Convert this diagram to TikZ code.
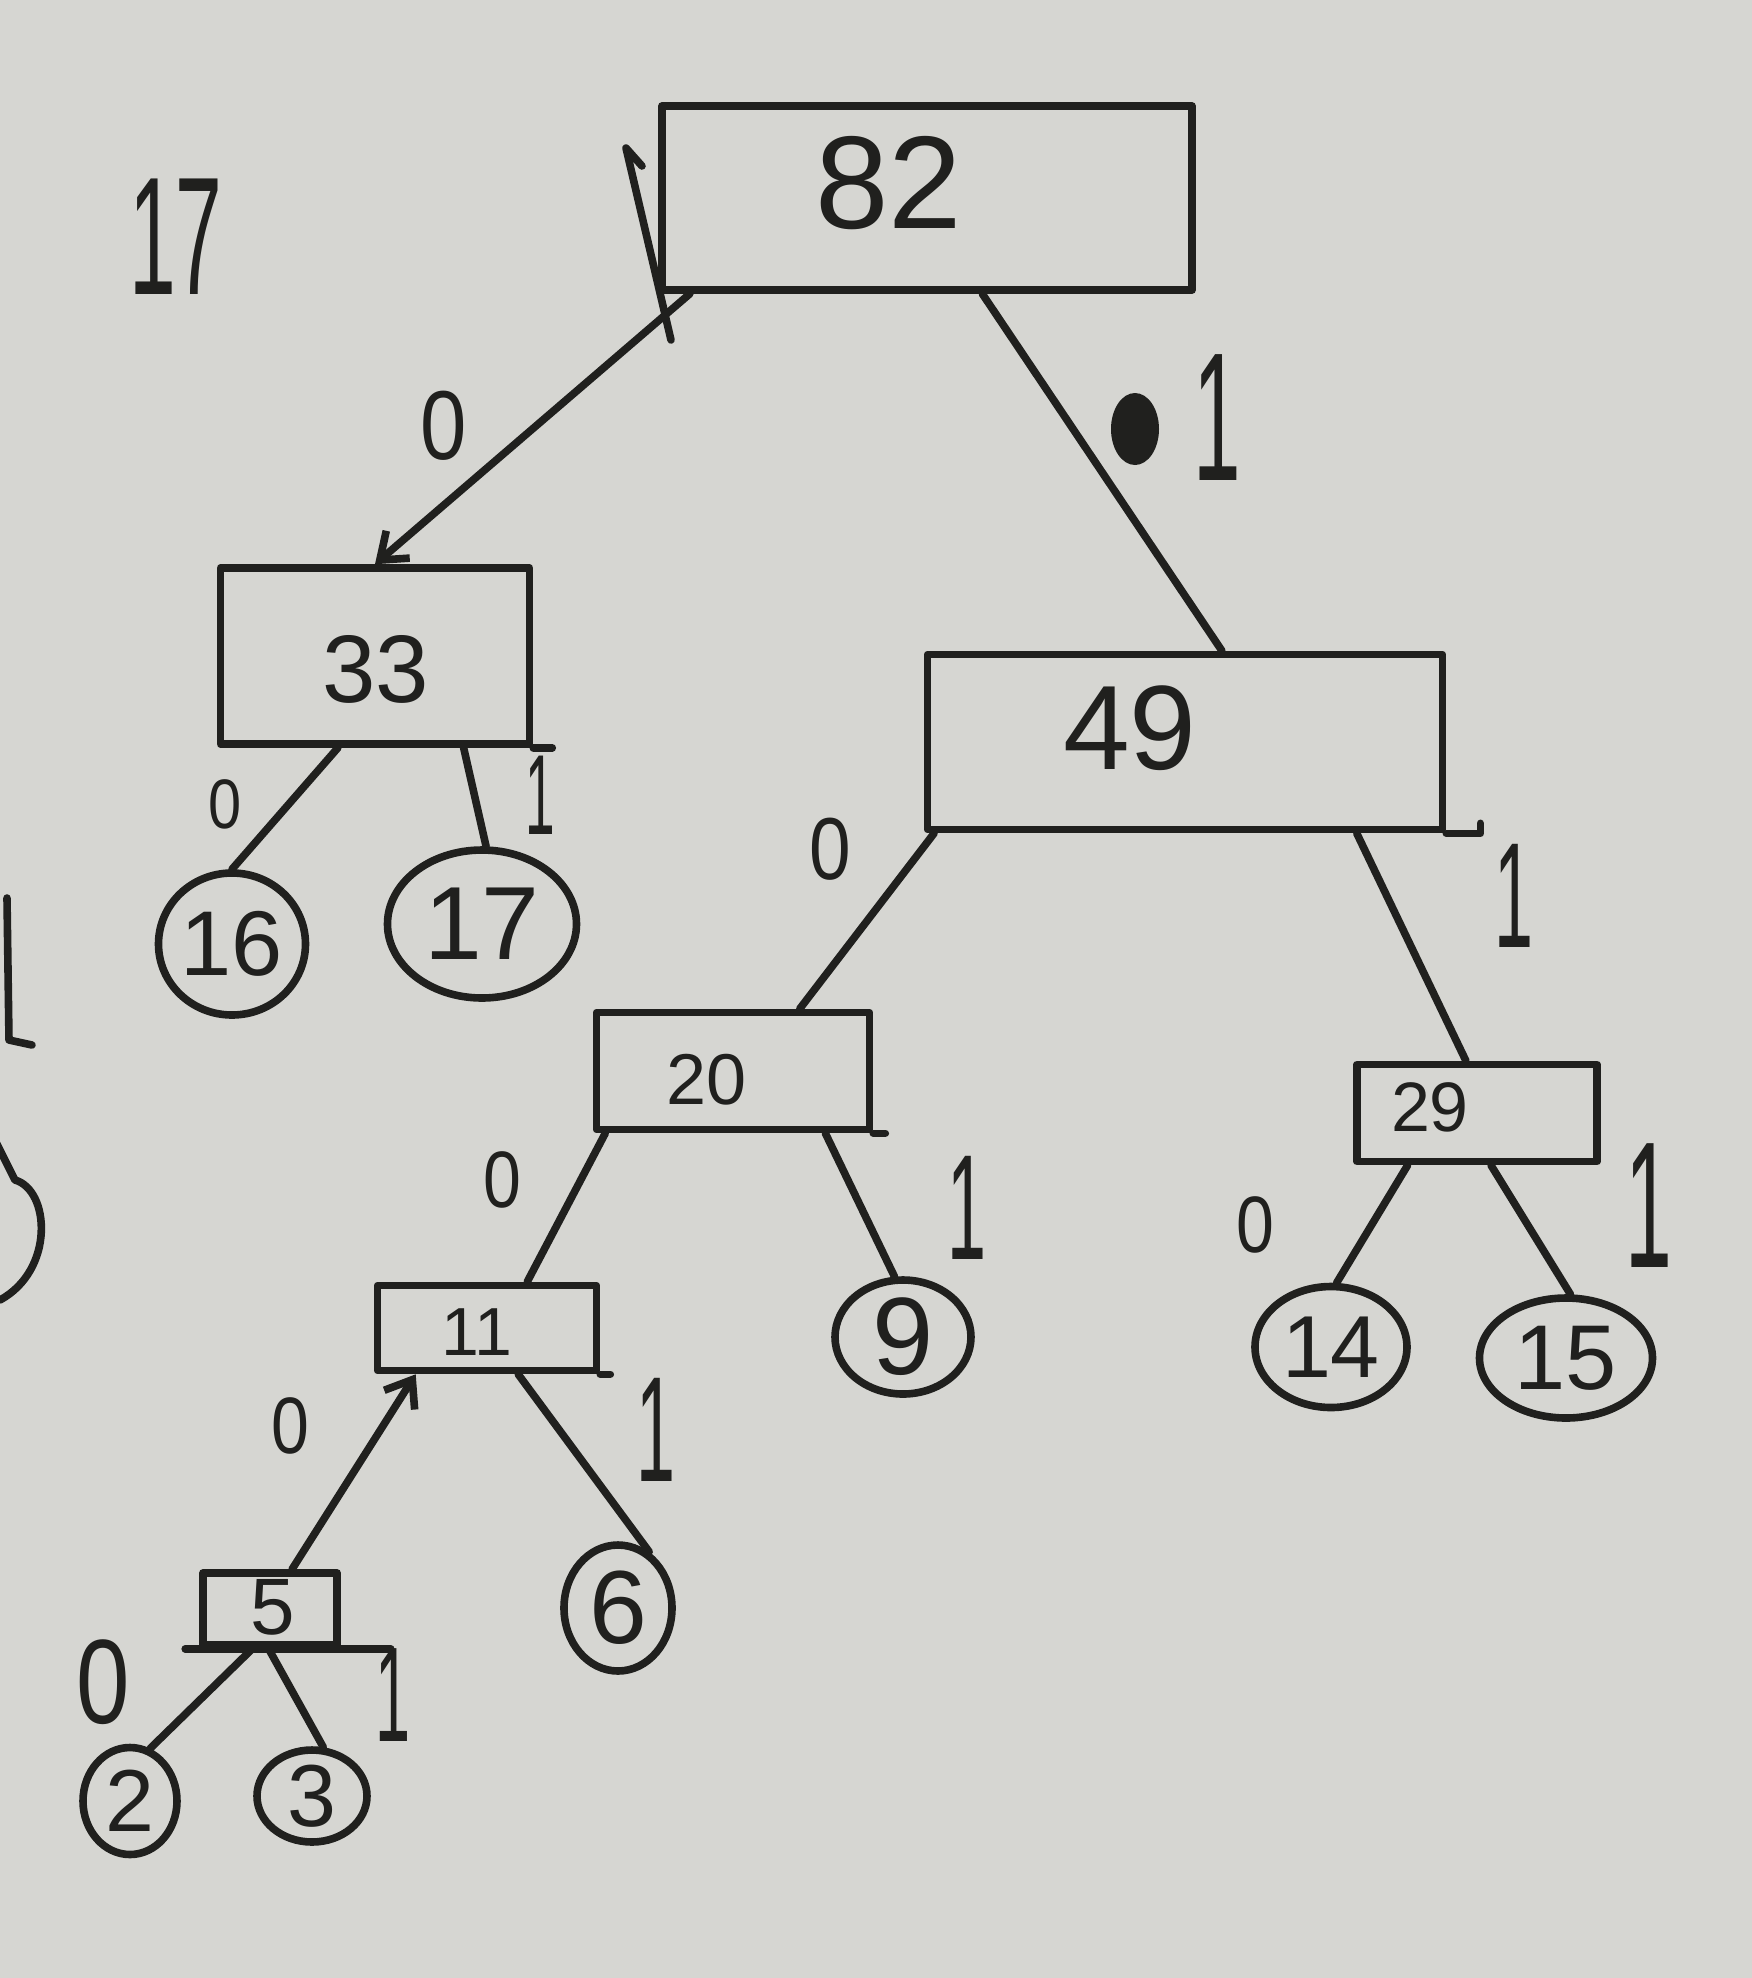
\documentclass[tikz,border=0pt]{standalone}
\usepackage{fontspec}
\setmainfont{Liberation Sans}
\usepackage{graphicx}
\usetikzlibrary{shapes.geometric,arrows.meta}
\definecolor{paper}{RGB}{214,214,210}
\definecolor{ink}{RGB}{32,32,30}
\newcommand\tallone[1]{\scalebox{0.7}[1.5]{#1}}
\tikzset{
  pen/.style={draw=ink, line width=3.8pt, line cap=round, line join=round},
  boxn/.style={pen, rectangle, inner sep=0pt},
  leaf/.style={pen, ellipse, inner sep=0pt, text=ink},
  txt/.style={text=ink, inner sep=0pt},
  fsz/.style={font=\fontsize{#1pt}{#1pt}\selectfont},
  barb/.style={-{Straight Barb[length=12pt,width=18pt]}}
}
\begin{document}
\begin{tikzpicture}[x=0.5pt,y=-0.5pt]
\useasboundingbox (0,0) rectangle (1752,1978);
\fill[paper] (0,0) rectangle (1752,1978);
\clip (0,0) rectangle (1752,1978);

% internal boxes
\node[boxn, minimum width=265pt, minimum height=92pt] (n82) at (927,198) {};
\node[boxn, minimum width=154.5pt, minimum height=88pt] (n33) at (375,656) {};
\node[boxn, minimum width=257.5pt, minimum height=87.5pt] (n49) at (1185,742) {};
\node[boxn, minimum width=136.5pt, minimum height=58.5pt] (n20) at (733,1071) {};
\node[boxn, minimum width=120pt, minimum height=48.5pt] (n29) at (1477,1113) {};
\node[boxn, minimum width=109.5pt, minimum height=42.5pt] (n11) at (487,1328) {};
\node[boxn, minimum width=67pt, minimum height=36pt] (n5) at (270,1609) {};

% box numbers
\node[txt, fsz=66] (t82) at (889,183) {82};
\node[txt, fsz=48] (t33) at (376,669) {33};
\node[txt, fsz=60] (t49) at (1130,728) {49};
\node[txt, fsz=36] (t20) at (707,1080) {20};
\node[txt, fsz=35] (t29) at (1430,1107) {29};
\node[txt, fsz=34] (t11) at (477,1332) {11};
\node[txt, fsz=40] (t5) at (273,1607) {5};

% leaves
\node[leaf, fsz=46, minimum width=73.5pt, minimum height=71pt] (l16) at (232,944) {16};
\node[leaf, fsz=52, minimum width=94.5pt, minimum height=74pt] (l17) at (482,924) {17};
\node[leaf, fsz=55, minimum width=68pt, minimum height=57pt] (l9) at (903,1337) {9};
\node[leaf, fsz=44, minimum width=76pt, minimum height=60.5pt] (l14) at (1331,1347) {14};
\node[leaf, fsz=46, minimum width=86.5pt, minimum height=60pt] (l15) at (1566,1358) {15};
\node[leaf, fsz=52, minimum width=54pt, minimum height=63pt] (l6) at (618,1608) {6};
\node[leaf, fsz=44, minimum width=47pt, minimum height=53.5pt] (l2) at (130,1801) {2};
\node[leaf, fsz=44, minimum width=55pt, minimum height=46pt] (l3) at (312,1796) {3};

% connectors
\draw[pen, barb] (n82.-158.3) -- (n33.north);
\draw[pen] (n82.-60.3) -- (n49.68.7);
\draw[pen] (n33.-112.8) -- (l16.90);
\draw[pen] (n33.-46.3) -- (l17.87);
\draw[pen] (n49.-160.3) -- (n20.43.5);
\draw[pen] (n49.-28.4) -- (n29.102.8);
\draw[pen] (n20.-154.6) -- (n11.49);
\draw[pen] (n20.-34.9) -- (l9.98);
\draw[pen] (n29.-143.5) -- (l14.85);
\draw[pen] (n29.-75) -- (l15.86);
\draw[pen, barb] (n5.61) -- (n11.-147.6);
\draw[pen] (n11.-56.6) -- (l6.61.5);
\draw[pen] (n5.-114) -- (l2.69.3);
\draw[pen] (n5.-92) -- (l3.77);

% extended strokes of the boxes
\draw[pen] (n33.south east) -- ++(19,0);
\draw[pen] (n49.south east) -- ++(34,0) -- ++(0,-10);
\draw[pen] (n20.south east) -- ++(12,0);
\draw[pen] (n11.south east) -- ++(10,0);
\draw[pen] ([xshift=-7pt]n5.south west) -- ([xshift=25pt]n5.south east);
\draw[pen] (671,340) -- (626,148) -- (642,166);

% edge labels
\node[txt, fsz=49] (la0) at (444,426) {\scalebox{0.85}[1]{0}};
\node[txt, fsz=61] (la1) at (1217,418) {\tallone{1}};
\node[txt, fsz=35] (lb0) at (225,804) {\scalebox{0.85}[1]{0}};
\node[txt, fsz=38] (lb1) at (540,795) {\tallone{1}};
\node[txt, fsz=44] (lc0) at (830,849) {\scalebox{0.85}[1]{0}};
\node[txt, fsz=50] (lc1) at (1514,896) {\tallone{1}};
\node[txt, fsz=40] (ld0) at (502,1180) {\scalebox{0.85}[1]{0}};
\node[txt, fsz=50] (ld1) at (967,1208) {\tallone{1}};
\node[txt, fsz=40] (le0) at (1255,1225) {\scalebox{0.85}[1]{0}};
\node[txt, fsz=60] (le1) at (1649,1206) {\tallone{1}};
\node[txt, fsz=40] (lf0) at (290,1426) {\scalebox{0.85}[1]{0}};
\node[txt, fsz=50] (lf1) at (656,1430) {\tallone{1}};
\node[txt, fsz=60] (lg0) at (103,1682) {\scalebox{0.8}[1]{0}};
\node[txt, fsz=45] (lg1) at (393,1695) {\tallone{1}};

% scribbled mark and other stray marks
\fill[ink] (1135,429) ellipse [x radius=12pt, y radius=18pt];
\node[txt, fsz=60] (t17) at (176,237) {\scalebox{0.7}[1.4]{17}};
\draw[pen] (7,898) -- (9,1040) -- (32,1045);
\draw[pen] (-5,1140) -- (15,1180) .. controls (50,1190) and (55,1270) .. (0,1300);
\end{tikzpicture}
\end{document}
